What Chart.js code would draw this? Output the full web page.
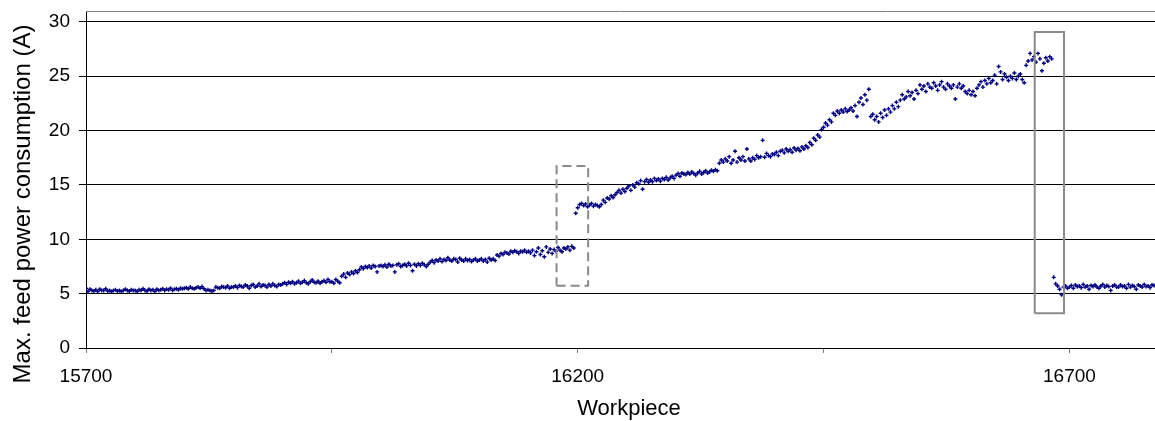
<!DOCTYPE html>
<html>
<head>
<meta charset="utf-8">
<script src="https://cdn.jsdelivr.net/npm/chart.js@4.4.1/dist/chart.umd.min.js"></script>
<style>
  html, body { margin: 0; padding: 0; background: #fff; overflow: hidden; }
  #wrap { width: 1155px; height: 421px; position: relative; }
  canvas { display: block; }
</style>
</head>
<body>
<div id="wrap"><canvas id="chart"></canvas></div>
<script>
// one reading every 2 workpieces, starting at 15700
var firstWorkpiece = 15700;
var workpieceStep = 2;
var feedCurrent = [
    // 15700
    5.5, 5.2, 5.4, 5.3, 5.25, 5.35, 5.2, 5.4, 5.3, 5.3, 5.45, 5.25, 5.3, 5.2, 5.3, 5.35, 5.25, 5.3, 5.2, 5.3, 5.4, 5.3, 5.25, 5.35, 5.3,
    // 15750
    5.3, 5.2, 5.35, 5.3, 5.45, 5.3, 5.25, 5.4, 5.3, 5.35, 5.2, 5.4, 5.3, 5.35, 5.45, 5.3, 5.4, 5.35, 5.5, 5.3, 5.4, 5.45, 5.35, 5.5, 5.45,
    // 15800
    5.5, 5.55, 5.45, 5.6, 5.5, 5.45, 5.55, 5.6, 5.5, 5.65, 5.45, 5.3, 5.35, 5.3, 5.25, 5.3, 5.6, 5.55, 5.5, 5.65, 5.6, 5.55, 5.7, 5.5, 5.6,
    // 15850
    5.6, 5.7, 5.55, 5.75, 5.65, 5.6, 5.8, 5.7, 5.5, 5.75, 5.85, 5.6, 5.7, 5.9, 5.65, 5.8, 5.75, 5.6, 5.85, 5.7, 5.9, 5.75, 5.65, 5.85, 5.8,
    // 15900
    5.9, 6.0, 5.85, 6.05, 5.95, 6.1, 5.9, 6.0, 6.15, 5.95, 6.05, 6.2, 6.0, 5.9, 6.1, 6.25, 6.05, 6.0, 6.15, 5.95, 6.1, 6.2, 6.05, 6.3, 6.1,
    // 15950
    6.1, 5.95, 6.3, 6.15, 6.0, 6.6, 6.8, 6.5, 6.9, 6.75, 7.0, 6.85, 7.1, 6.95, 7.2, 7.45, 7.3, 7.5, 7.4, 7.55, 7.35, 7.6, 7.5, 7.0, 7.55,
    // 16000
    7.6, 7.5, 7.65, 7.45, 7.7, 7.55, 7.6, 7.0, 7.65, 7.75, 7.5, 7.6, 7.7, 7.55, 7.8, 7.6, 7.1, 7.7, 7.55, 7.75, 7.6, 7.8, 7.65, 7.5, 7.7,
    // 16050
    7.9, 8.05, 7.85, 8.1, 8.0, 8.2, 7.95, 8.15, 8.05, 8.3, 8.1, 8.0, 8.2, 8.15, 7.9, 8.25, 8.1, 8.0, 8.2, 8.05, 8.15, 7.95, 8.1, 8.2, 8.0,
    // 16100
    8.1, 8.2, 8.0, 8.15, 7.9, 8.25, 8.1, 8.2, 8.05, 8.55, 8.45, 8.7, 8.6, 8.8, 8.75, 8.65, 8.9, 8.8, 8.95, 8.85, 8.7, 8.9, 8.85, 9.0, 8.8,
    // 16150
    8.9, 8.75, 9.0, 8.5, 8.85, 9.2, 8.6, 8.95, 8.4, 9.3, 8.8, 9.1, 8.7, 9.05, 8.9, 9.25, 9.0, 8.85, 9.2, 9.1, 9.3, 9.0, 9.35, 9.2, 12.4,
    // 16200
    12.9, 13.2, 13.3, 13.1, 13.25, 13.0, 13.15, 13.3, 13.05, 13.2, 13.1, 13.0, 13.2, 13.6, 13.4, 13.8, 13.7, 14.0, 13.85, 14.1, 14.3, 14.5, 14.25, 14.6, 14.4,
    // 16250
    14.7, 14.9, 14.5, 15.0, 14.8, 15.2, 15.1, 15.4, 14.6, 15.3, 15.5, 15.25, 15.45, 15.3, 15.6, 15.4, 15.55, 15.35, 15.6, 15.5, 15.7, 15.45, 15.65, 15.8, 15.6,
    // 16300
    15.9, 16.05, 15.8, 16.1, 16.0, 15.95, 16.15, 16.0, 16.2, 16.05, 15.9, 16.1, 16.25, 16.0, 16.15, 16.3, 16.1, 16.2, 16.35, 16.25, 16.4, 16.3, 17.0, 17.3, 17.1,
    // 16350
    17.4, 17.2, 17.6, 17.0, 17.3, 18.1, 17.1, 17.5, 17.3, 17.6, 17.2, 18.3, 17.4, 17.2, 17.5, 17.35, 17.7, 17.5, 17.6, 19.1, 17.55, 17.9, 17.7, 17.6, 17.85,
    // 16400
    17.8, 18.0, 17.7, 18.1, 18.2, 17.95, 18.3, 18.1, 18.25, 18.0, 18.4, 18.2, 18.35, 18.15, 18.5, 18.3, 18.6, 18.45, 18.9, 18.7, 19.3, 19.1, 19.6, 19.4, 20.1,
    // 16450
    20.3, 20.7, 20.5, 21.0, 20.8, 21.6, 21.4, 21.8, 21.6, 21.9, 21.7, 22.0, 21.75, 21.9, 22.1, 21.8, 22.3, 21.3, 22.6, 23.0, 22.4, 23.3, 22.8, 23.8, 21.3,
    // 16500
    21.5, 21.0, 21.3, 20.8, 21.6, 21.2, 21.9, 21.4, 22.0, 21.7, 22.3, 22.0, 22.6, 22.2, 22.8, 23.3, 22.9, 23.1, 23.6, 23.2, 23.5, 22.9, 23.7, 23.4, 24.2,
    // 16550
    23.8, 24.1, 23.6, 24.3, 24.0, 23.9, 24.4, 24.1, 23.7, 24.2, 24.5, 24.0, 23.8, 24.3, 24.1, 23.9, 24.2, 22.9, 24.0, 24.3, 23.9, 24.1, 23.6, 23.4, 23.7,
    // 16600
    23.3, 23.6, 23.2, 23.9, 24.2, 24.5, 24.0, 24.6, 24.3, 24.8, 24.4, 24.6, 25.1, 24.3, 25.9, 25.4, 24.7, 25.2, 24.9, 24.6, 25.0, 24.8, 25.3, 24.7, 25.0,
    // 16650
    25.2, 24.7, 24.4, 26.0, 26.4, 27.1, 26.5, 26.8, 26.3, 27.1, 26.6, 25.5, 26.2, 26.7, 26.4, 26.8, 26.6, 6.5, 5.9, 5.7, 5.4, 4.9, 5.6, 5.7, 5.5,
    // 16700
    5.6, 5.75, 5.5, 5.8, 5.65, 5.7, 5.55, 5.85, 5.6, 5.7, 5.4, 5.75, 5.65, 5.8, 5.6, 5.5, 5.7, 5.85, 5.6, 5.75, 5.65, 5.3, 5.7, 5.8, 5.6,
    // 16750
    5.6, 5.8, 5.65, 5.7, 5.5, 5.85, 5.6, 5.75, 5.65, 5.4, 5.8, 5.7, 5.6, 5.85, 5.65, 5.7, 5.55, 5.8, 5.75
];

var xTicks = [15700, 15950, 16200, 16450, 16700];
var xTickLabels = ['15700', '', '16200', '', '16700'];
var yTicks = [0, 5, 10, 15, 20, 25, 30];
var xTitle = 'Workpiece';
var yTitle = 'Max. feed power consumption (A)';

// marked regions
var dashedBoxX = [16178.5, 16210.6, 16210.6, 16178.5, 16178.5];
var dashedBoxY = [5.73, 5.73, 16.74, 16.74, 5.73];
var solidBoxX = [16664.7, 16694.5, 16694.5, 16664.7, 16664.7];
var solidBoxY = [3.19, 3.19, 29.07, 29.07, 3.19];

function toPoints(xs, ys) {
    return xs.map(function (x, i) { return {x: x, y: ys[i]}; });
}

var points = feedCurrent.map(function (v, i) {
    return {x: firstWorkpiece + i * workpieceStep, y: v};
});

// grey plot-area top edge and the two axis titles (placed like the Excel original)
var frame = {
    id: 'frame',
    afterDraw: function (chart) {
        var a = chart.chartArea, ctx = chart.ctx;
        ctx.save();
        ctx.strokeStyle = '#808080';
        ctx.lineWidth = 1;
        ctx.beginPath();
        ctx.moveTo(a.left, Math.round(a.top) + 0.5);
        ctx.lineTo(a.right, Math.round(a.top) + 0.5);
        ctx.stroke();

        ctx.fillStyle = '#000';
        ctx.textAlign = 'center';
        ctx.textBaseline = 'middle';
        ctx.font = '22px "Liberation Sans", Arial, sans-serif';
        ctx.fillText(xTitle, 629, 409);

        ctx.translate(23, 204);
        ctx.rotate(-Math.PI / 2);
        ctx.font = '24px "Liberation Sans", Arial, sans-serif';
        ctx.fillText(yTitle, 0, 0);
        ctx.restore();
    }
};

Chart.defaults.font.family = '"Liberation Sans", Arial, sans-serif';
Chart.defaults.color = '#000';

new Chart(document.getElementById('chart'), {
    type: 'scatter',
    data: {
        datasets: [{
            data: toPoints(dashedBoxX, dashedBoxY),
            showLine: true,
            borderColor: '#8a8a8a',
            borderWidth: 2,
            borderDash: [9, 5],
            pointRadius: 0,
            fill: false,
            order: 0
        }, {
            data: toPoints(solidBoxX, solidBoxY),
            showLine: true,
            borderColor: '#8a8a8a',
            borderWidth: 2,
            pointRadius: 0,
            fill: false,
            order: 0
        }, {
            data: points,
            pointStyle: 'cross',
            pointRadius: 2,
            borderWidth: 1.4,
            borderColor: '#000080',
            backgroundColor: '#000080',
            order: 1
        }]
    },
    options: {
        responsive: true,
        maintainAspectRatio: false,
        animation: false,
        layout: {autoPadding: false, padding: {top: 11, right: 0, left: 0, bottom: 0}},
        plugins: {legend: {display: false}, tooltip: {enabled: false}},
        scales: {
            x: {
                type: 'linear',
                min: 15700,
                max: 16787,
                afterBuildTicks: function (s) { s.ticks = xTicks.map(function (v) { return {value: v}; }); },
                afterFit: function (s) { s.height = 73; s.paddingLeft = 0; s.paddingRight = 0; },
                border: {color: '#000', width: 1},
                grid: {drawOnChartArea: false, tickLength: 5, color: '#808080'},
                ticks: {
                    autoSkip: false, maxRotation: 0, padding: 12,
                    font: {size: 19},
                    callback: function (v) { var i = xTicks.indexOf(v); return i < 0 ? '' : xTickLabels[i]; }
                }
            },
            y: {
                min: 0,
                max: 31,
                afterBuildTicks: function (s) { s.ticks = yTicks.map(function (v) { return {value: v}; }); },
                afterFit: function (s) { s.width = 86; s.paddingTop = 0; s.paddingBottom = 0; },
                border: {color: '#000', width: 1},
                grid: {color: '#000', tickLength: 7},
                ticks: {padding: 9, font: {size: 19}}
            }
        }
    },
    plugins: [frame]
});
</script>
</body>
</html>
